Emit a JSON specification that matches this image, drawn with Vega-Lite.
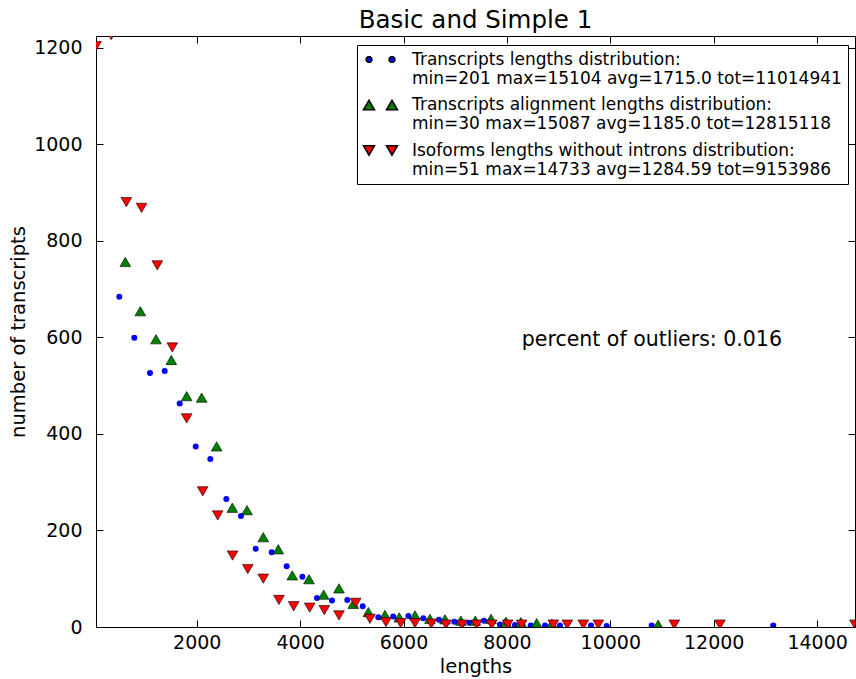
{
  "$schema": "https://vega.github.io/schema/vega-lite/v6.json",
  "width": 759,
  "height": 591,
  "autosize": {"type": "none"},
  "padding": {"left": 96, "top": 36, "right": 1, "bottom": 52},
  "background": "white",
  "config": {
    "font": "DejaVu Sans",
    "view": {"stroke": "#000000", "strokeWidth": 1},
    "axis": {"grid": false, "domain": false, "tickColor": "#000000", "tickWidth": 1, "labelColor": "#000000", "titleColor": "#000000", "titleFontWeight": "normal", "labelFlush": false, "labelOverlap": false, "labelFont": "DejaVu Sans", "titleFont": "DejaVu Sans", "format": "d"}
  },
  "title": {"text": "Basic and Simple 1", "fontSize": 24.5, "fontWeight": "normal", "font": "DejaVu Sans", "color": "#000000", "offset": 2, "anchor": "middle"},
  "data": {
    "values": [
      {"s": "transcripts", "x": 502, "y": 684},
      {"s": "transcripts", "x": 792, "y": 599},
      {"s": "transcripts", "x": 1095, "y": 526},
      {"s": "transcripts", "x": 1380, "y": 530},
      {"s": "transcripts", "x": 1670, "y": 463},
      {"s": "transcripts", "x": 1980, "y": 374},
      {"s": "transcripts", "x": 2262, "y": 348},
      {"s": "transcripts", "x": 2572, "y": 265},
      {"s": "transcripts", "x": 2855, "y": 230},
      {"s": "transcripts", "x": 3140, "y": 162},
      {"s": "transcripts", "x": 3450, "y": 155},
      {"s": "transcripts", "x": 3740, "y": 126},
      {"s": "transcripts", "x": 4043, "y": 104},
      {"s": "transcripts", "x": 4326, "y": 60},
      {"s": "transcripts", "x": 4616, "y": 55},
      {"s": "transcripts", "x": 4912, "y": 56},
      {"s": "transcripts", "x": 5210, "y": 43},
      {"s": "transcripts", "x": 5512, "y": 20},
      {"s": "transcripts", "x": 5800, "y": 22},
      {"s": "transcripts", "x": 6093, "y": 23},
      {"s": "transcripts", "x": 6382, "y": 18},
      {"s": "transcripts", "x": 6685, "y": 15},
      {"s": "transcripts", "x": 6981, "y": 11},
      {"s": "transcripts", "x": 7272, "y": 9},
      {"s": "transcripts", "x": 7556, "y": 13},
      {"s": "transcripts", "x": 7865, "y": 5},
      {"s": "transcripts", "x": 8155, "y": 4},
      {"s": "transcripts", "x": 8459, "y": 3},
      {"s": "transcripts", "x": 8736, "y": 3},
      {"s": "transcripts", "x": 9026, "y": 3},
      {"s": "transcripts", "x": 9626, "y": 3},
      {"s": "transcripts", "x": 9930, "y": 2},
      {"s": "transcripts", "x": 10800, "y": 3},
      {"s": "transcripts", "x": 13152, "y": 3},
      {"s": "alignment", "x": 618, "y": 756},
      {"s": "alignment", "x": 908, "y": 654},
      {"s": "alignment", "x": 1212, "y": 596},
      {"s": "alignment", "x": 1508, "y": 553},
      {"s": "alignment", "x": 1805, "y": 478},
      {"s": "alignment", "x": 2095, "y": 475},
      {"s": "alignment", "x": 2385, "y": 374},
      {"s": "alignment", "x": 2688, "y": 247},
      {"s": "alignment", "x": 2972, "y": 242},
      {"s": "alignment", "x": 3287, "y": 186},
      {"s": "alignment", "x": 3577, "y": 161},
      {"s": "alignment", "x": 3848, "y": 107},
      {"s": "alignment", "x": 4171, "y": 99},
      {"s": "alignment", "x": 4455, "y": 67},
      {"s": "alignment", "x": 4751, "y": 80},
      {"s": "alignment", "x": 5028, "y": 48},
      {"s": "alignment", "x": 5320, "y": 31},
      {"s": "alignment", "x": 5640, "y": 25},
      {"s": "alignment", "x": 5917, "y": 20},
      {"s": "alignment", "x": 6221, "y": 24},
      {"s": "alignment", "x": 6511, "y": 17},
      {"s": "alignment", "x": 6802, "y": 16},
      {"s": "alignment", "x": 7110, "y": 13},
      {"s": "alignment", "x": 7388, "y": 13},
      {"s": "alignment", "x": 7692, "y": 17},
      {"s": "alignment", "x": 7981, "y": 11},
      {"s": "alignment", "x": 8271, "y": 10},
      {"s": "alignment", "x": 8575, "y": 8},
      {"s": "alignment", "x": 8870, "y": 7},
      {"s": "alignment", "x": 10925, "y": 5},
      {"s": "isoforms", "x": 51, "y": 1203},
      {"s": "isoforms", "x": 345, "y": 1226},
      {"s": "isoforms", "x": 638, "y": 880},
      {"s": "isoforms", "x": 932, "y": 868},
      {"s": "isoforms", "x": 1237, "y": 749},
      {"s": "isoforms", "x": 1527, "y": 579},
      {"s": "isoforms", "x": 1805, "y": 432},
      {"s": "isoforms", "x": 2115, "y": 281},
      {"s": "isoforms", "x": 2405, "y": 231},
      {"s": "isoforms", "x": 2693, "y": 148},
      {"s": "isoforms", "x": 2987, "y": 120},
      {"s": "isoforms", "x": 3287, "y": 100},
      {"s": "isoforms", "x": 3590, "y": 56},
      {"s": "isoforms", "x": 3875, "y": 43},
      {"s": "isoforms", "x": 4185, "y": 40},
      {"s": "isoforms", "x": 4468, "y": 35},
      {"s": "isoforms", "x": 4751, "y": 24},
      {"s": "isoforms", "x": 5074, "y": 50},
      {"s": "isoforms", "x": 5350, "y": 17},
      {"s": "isoforms", "x": 5660, "y": 10},
      {"s": "isoforms", "x": 5945, "y": 8},
      {"s": "isoforms", "x": 6221, "y": 8},
      {"s": "isoforms", "x": 6537, "y": 7},
      {"s": "isoforms", "x": 6821, "y": 5},
      {"s": "isoforms", "x": 7130, "y": 5},
      {"s": "isoforms", "x": 7415, "y": 5},
      {"s": "isoforms", "x": 7705, "y": 5},
      {"s": "isoforms", "x": 8015, "y": 5},
      {"s": "isoforms", "x": 8285, "y": 5},
      {"s": "isoforms", "x": 8897, "y": 5},
      {"s": "isoforms", "x": 9168, "y": 5},
      {"s": "isoforms", "x": 9477, "y": 5},
      {"s": "isoforms", "x": 9767, "y": 5},
      {"s": "isoforms", "x": 11237, "y": 5},
      {"s": "isoforms", "x": 12120, "y": 5},
      {"s": "isoforms", "x": 14733, "y": 5}
    ]
  },
  "layer": [
    {
      "mark": {"type": "point", "filled": true, "opacity": 0, "clip": true},
      "encoding": {
        "x": {
          "field": "x", "type": "quantitative",
          "scale": {"domain": [51, 14733], "nice": false, "zero": false},
          "axis": {"orient": "bottom", "values": [2000, 4000, 6000, 8000, 10000, 12000, 14000], "tickSize": -7, "labelPadding": 13, "labelFontSize": 19, "title": "lengths", "titleFontSize": 19.5, "titlePadding": 5}
        },
        "y": {
          "field": "y", "type": "quantitative",
          "scale": {"domain": [0, 1224], "nice": false, "zero": true},
          "axis": {"orient": "left", "values": [0, 200, 400, 600, 800, 1000, 1200], "tickSize": -7, "labelPadding": 21, "labelFontSize": 19, "title": "number of transcripts", "titleFontSize": 19.5, "titlePadding": 5}
        },
        "color": {
          "field": "s", "type": "nominal",
          "scale": {"domain": ["transcripts", "alignment", "isoforms"], "range": ["#0000ff", "#008000", "#ff0000"]},
          "legend": {
            "orient": "none", "legendX": 261, "legendY": 9, "title": null,
            "strokeColor": "#000000", "fillColor": "#ffffff", "padding": 6, "cornerRadius": 0,
            "labelFont": "DejaVu Sans", "labelFontSize": 17, "labelColor": "#000000", "labelLimit": 0,
            "symbolOffset": 9, "labelOffset": 23, "rowPadding": 8.5, "symbolSize": 100, "symbolOpacity": 1,
            "labelExpr": "datum.value === 'transcripts' ? ['Transcripts lengths distribution:', 'min=201 max=15104 avg=1715.0 tot=11014941'] : datum.value === 'alignment' ? ['Transcripts alignment lengths distribution:', 'min=30 max=15087 avg=1185.0 tot=12815118'] : ['Isoforms lengths without introns distribution:', 'min=51 max=14733 avg=1284.59 tot=9153986']"
          }
        },
        "shape": {
          "field": "s", "type": "nominal",
          "scale": {
            "domain": ["transcripts", "alignment", "isoforms"],
            "range": [
              "M-1.746,0.23L-2.07,0.554L-2.53,0.554L-2.854,0.23L-2.854,-0.23L-2.53,-0.554L-2.07,-0.554L-1.746,-0.23ZM2.854,0.23L2.53,0.554L2.07,0.554L1.746,0.23L1.746,-0.23L2.07,-0.554L2.53,-0.554L2.854,-0.23Z",
              "M-3.4,0.95L-2.3,-0.95L-1.2,0.95ZM1.2,0.95L2.3,-0.95L3.4,0.95Z",
              "M-3.4,-0.95L-2.3,0.95L-1.2,-0.95ZM1.2,-0.95L2.3,0.95L3.4,-0.95Z"
            ]
          }
        },
        "stroke": {"condition": {"test": "(datum.s || datum.value) === 'transcripts'", "value": "#0000ff"}, "value": "#000000"},
        "strokeWidth": {"value": 0.5}
      }
    },
    {
      "mark": {"type": "point", "filled": true, "opacity": 1, "clip": true},
      "encoding": {
        "x": {"field": "x", "type": "quantitative", "axis": null},
        "y": {"field": "y", "type": "quantitative", "axis": null},
        "color": {"condition": [{"test": "datum.s === 'transcripts'", "value": "#0000ff"}, {"test": "datum.s === 'alignment'", "value": "#008000"}], "value": "#ff0000"},
        "shape": {"condition": [{"test": "datum.s === 'transcripts'", "value": "circle"}, {"test": "datum.s === 'alignment'", "value": "triangle-up"}], "value": "triangle-down"},
        "size": {"condition": {"test": "datum.s === 'transcripts'", "value": 36}, "value": 115},
        "stroke": {"condition": {"test": "datum.s === 'transcripts'", "value": "#0000ff"}, "value": "#000000"},
        "strokeWidth": {"condition": {"test": "datum.s === 'transcripts'", "value": 0}, "value": 0.6}
      }
    },
    {
      "data": {"values": [{"note": "percent of outliers: 0.016"}]},
      "mark": {"type": "text", "align": "left", "baseline": "middle", "fontSize": 20.5, "font": "DejaVu Sans", "color": "#000000"},
      "encoding": {
        "x": {"datum": 8288, "type": "quantitative", "axis": {"orient": "top", "values": [2000, 4000, 6000, 8000, 10000, 12000, 14000], "tickSize": -7, "labels": false, "title": null}},
        "y": {"datum": 594, "type": "quantitative", "axis": {"orient": "right", "values": [0, 200, 400, 600, 800, 1000, 1200], "tickSize": -7, "labels": false, "title": null}},
        "text": {"field": "note", "type": "nominal"}
      }
    }
  ],
  "resolve": {"axis": {"x": "independent", "y": "independent"}}
}
